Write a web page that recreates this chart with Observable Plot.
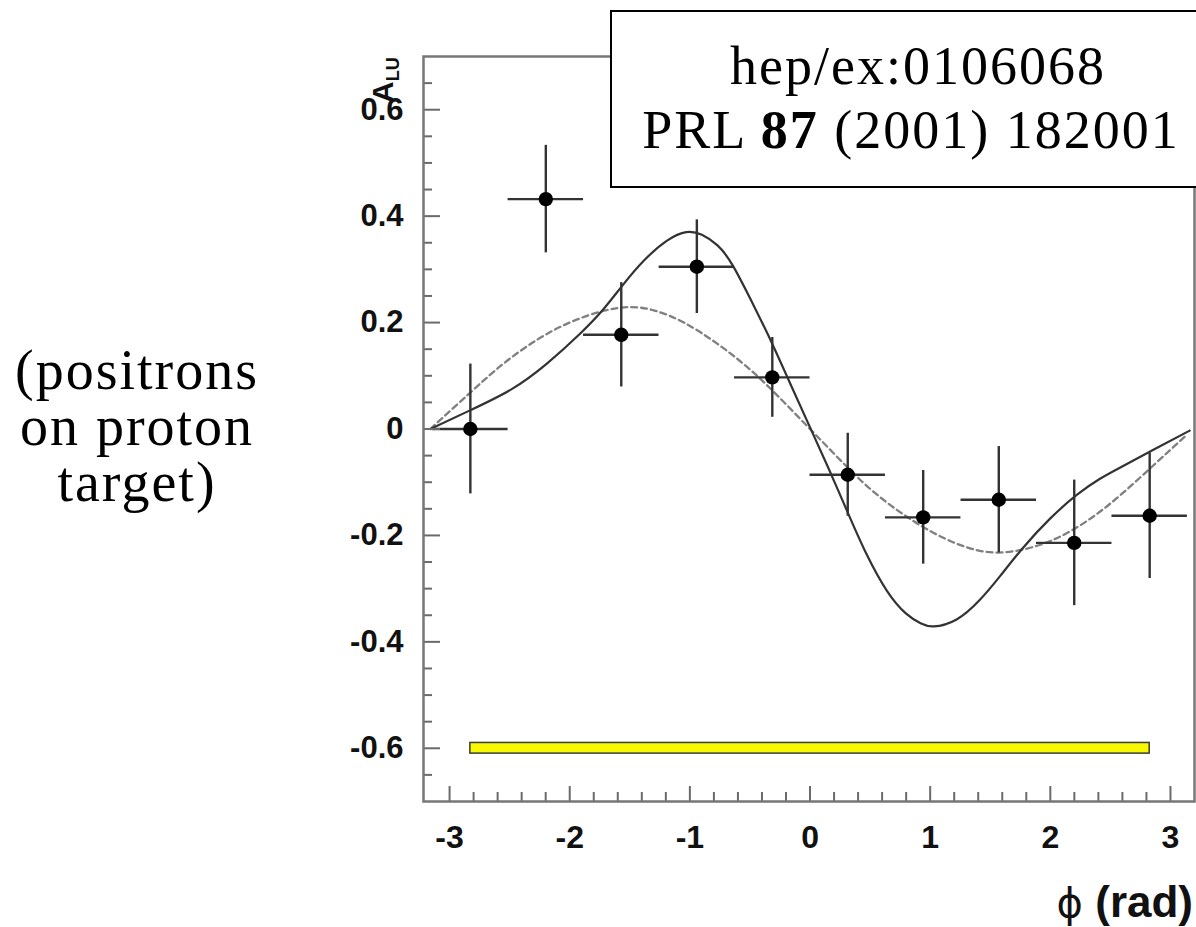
<!DOCTYPE html>
<html>
<head>
<meta charset="utf-8">
<script src="https://cdn.jsdelivr.net/npm/d3@7"></script>
<script src="https://cdn.jsdelivr.net/npm/@observablehq/plot@0.6"></script>
<style>
  html, body { margin: 0; padding: 0; background: #fff; overflow: hidden; }
  #chart { position: relative; width: 1196px; height: 927px; }
</style>
</head>
<body>
<div id="chart"></div>
<script>
// Beam-spin asymmetry A_LU versus azimuthal angle phi (positrons on a proton target)
const phi   = [-2.827, -2.199, -1.571, -0.942, -0.314, 0.314, 0.942, 1.571, 2.199, 2.827];
const alu   = [0.0, 0.432, 0.177, 0.305, 0.097, -0.086, -0.166, -0.133, -0.214, -0.163];
const stat  = [0.122, 0.101, 0.098, 0.088, 0.075, 0.078, 0.088, 0.100, 0.118, 0.118];
const phiHalfWidth = 0.314;

// Systematic-uncertainty band drawn across the phi range
const sysLevel = -0.6;
const sysHalfHeight = 0.01;

// Model curve (solid)
const modelPhi = [-3.16, -2.83, -2.49, -2.19, -1.91, -1.72, -1.56, -1.38, -1.19, -1.03, -0.90, -0.77, -0.64, -0.46, -0.31, -0.15, 0.0,
                  0.15, 0.318, 0.47, 0.64, 0.80, 0.92, 1.03, 1.22, 1.41, 1.58, 1.77, 2.0, 2.22, 2.41, 2.61, 2.85, 3.16];
const modelAlu = [0.0, 0.035, 0.074, 0.123, 0.180, 0.225, 0.270, 0.317, 0.354, 0.370, 0.365, 0.345, 0.306, 0.228, 0.158, 0.078, 0.003,
                  -0.072, -0.159, -0.235, -0.304, -0.347, -0.365, -0.371, -0.358, -0.322, -0.277, -0.224, -0.168, -0.124, -0.094, -0.069, -0.040, -0.003];

// Fit curve (dashed)
const fitPhi = [-3.16, -2.83, -2.55, -2.27, -2.0, -1.72, -1.5, -1.3, -1.05, -0.77, -0.5, -0.25, 0.0,
                0.25, 0.55, 0.94, 1.3, 1.6, 1.91, 2.19, 2.5, 2.85, 3.14];
const fitAlu = [0.0, 0.068, 0.123, 0.168, 0.200, 0.222, 0.229, 0.223, 0.200, 0.160, 0.112, 0.058, 0.0,
                -0.058, -0.122, -0.184, -0.222, -0.232, -0.218, -0.189, -0.140, -0.070, -0.010];

// Axis ticks
const xMajor = [-3, -2, -1, 0, 1, 2, 3];
const xMinor = [-2.8, -2.6, -2.4, -2.2, -1.8, -1.6, -1.4, -1.2, -0.8, -0.6, -0.4, -0.2, 0.2, 0.4, 0.6, 0.8,
                1.2, 1.4, 1.6, 1.8, 2.2, 2.4, 2.6, 2.8];
const yMajor = [-0.6, -0.4, -0.2, 0, 0.2, 0.4, 0.6];
const yMinor = [-0.65, -0.55, -0.5, -0.45, -0.35, -0.3, -0.25, -0.15, -0.1, -0.05, 0.05, 0.1, 0.15,
                0.25, 0.3, 0.35, 0.45, 0.5, 0.55, 0.65];

const points = phi.map((x, i) => ({x, y: alu[i], e: stat[i]}));
const model = modelPhi.map((x, i) => ({x, y: modelAlu[i]}));
const fit = fitPhi.map((x, i) => ({x, y: fitAlu[i]}));
const band = [{x1: phi[0], x2: phi[phi.length - 1], y1: sysLevel - sysHalfHeight, y2: sysLevel + sysHalfHeight}];

const fmt = d => String(d);
const tickColor = "#6a6a6a";

const chart = Plot.plot({
  width: 1196,
  height: 927,
  marginLeft: 423,
  marginRight: 2,
  marginTop: 56,
  marginBottom: 126,
  style: {fontFamily: "'Liberation Sans', Arial, sans-serif", fontSize: "31px", background: "white"},
  x: {domain: [-3.217, 3.2]},
  y: {domain: [-0.7, 0.7]},
  marks: [
    Plot.rect(band, {x1: "x1", x2: "x2", y1: "y1", y2: "y2", fill: "#f8f800", stroke: "#3a3a3a", strokeWidth: 1.5}),
    Plot.line(fit, {x: "x", y: "y", curve: "natural", stroke: "#808080", strokeWidth: 2.3, strokeDasharray: "6,4"}),
    Plot.line(model, {x: "x", y: "y", curve: "natural", stroke: "#333", strokeWidth: 2.2}),
    Plot.ruleX(points, {x: "x", y1: d => d.y - d.e, y2: d => d.y + d.e, stroke: "#333", strokeWidth: 2.4}),
    Plot.ruleY(points, {y: "y", x1: d => d.x - phiHalfWidth, x2: d => d.x + phiHalfWidth, stroke: "#333", strokeWidth: 2.4}),
    Plot.dot(points, {x: "x", y: "y", r: 7.2, fill: "#000", stroke: "none"}),
    Plot.axisY(yMinor, {tickSize: -9, tickFormat: () => "", color: tickColor, strokeWidth: 2, label: null}),
    Plot.axisY(yMajor, {tickSize: -17, tickFormat: () => "", color: tickColor, strokeWidth: 2, label: null}),
    Plot.axisY(yMajor, {tickSize: 0, tickPadding: 20, tickFormat: fmt, color: "#111", fontWeight: "bold", fontSize: 31, label: null}),
    Plot.axisX(xMinor, {tickSize: -9, tickFormat: () => "", color: tickColor, strokeWidth: 2, label: null}),
    Plot.axisX(xMajor, {tickSize: -15, tickFormat: () => "", color: tickColor, strokeWidth: 2, label: null}),
    Plot.axisX(xMajor, {tickSize: 0, tickPadding: 24, tickFormat: fmt, color: "#111", fontWeight: "bold", fontSize: 32, label: null}),
    Plot.frame({stroke: "#777", strokeWidth: 2.5})
  ]
});

document.getElementById("chart").appendChild(chart);

const svg = d3.select(chart);

// Y-axis title: A with subscript LU, rotated to read bottom-to-top
const ylab = svg.append("text")
  .attr("transform", "translate(393,103) rotate(-90)")
  .attr("text-anchor", "start")
  .attr("font-family", "'Liberation Sans', Arial, sans-serif")
  .attr("font-weight", "bold")
  .attr("font-size", 30)
  .attr("fill", "#111");
ylab.append("tspan").text("A");
ylab.append("tspan").attr("font-size", 18).attr("dy", 6).text("LU");

// X-axis title
const xlab = svg.append("text")
  .attr("x", 1193).attr("y", 917)
  .attr("text-anchor", "end")
  .attr("font-family", "'Liberation Sans', Arial, sans-serif")
  .attr("font-weight", "bold")
  .attr("font-size", 44)
  .attr("fill", "#111");
xlab.append("tspan").attr("font-family", "'DejaVu Sans', sans-serif").attr("font-weight", "normal").attr("font-size", 40).text("ϕ");
xlab.append("tspan").text(" (rad)");

// Reference box
const ref = svg.append("g")
  .attr("font-family", "'Liberation Serif', 'Times New Roman', serif")
  .attr("font-size", 54)
  .attr("letter-spacing", 2)
  .attr("fill", "#000")
  .attr("text-anchor", "middle");
ref.append("rect").attr("x", 611).attr("y", 11).attr("width", 620).attr("height", 176)
  .attr("fill", "white").attr("stroke", "#000").attr("stroke-width", 2);
ref.append("text").attr("x", 918).attr("y", 84).text("hep/ex:0106068");
const prl = ref.append("text").attr("x", 911).attr("y", 148);
prl.append("tspan").text("PRL ");
prl.append("tspan").attr("font-weight", "bold").text("87");
prl.append("tspan").text(" (2001) 182001");

// Side note
const note = svg.append("g")
  .attr("font-family", "'Liberation Serif', 'Times New Roman', serif")
  .attr("font-size", 56)
  .attr("letter-spacing", 2)
  .attr("fill", "#000")
  .attr("text-anchor", "middle");
note.append("text").attr("x", 137).attr("y", 389).text("(positrons");
note.append("text").attr("x", 137).attr("y", 445).text("on proton");
note.append("text").attr("x", 137).attr("y", 501).text("target)");
</script>
</body>
</html>
